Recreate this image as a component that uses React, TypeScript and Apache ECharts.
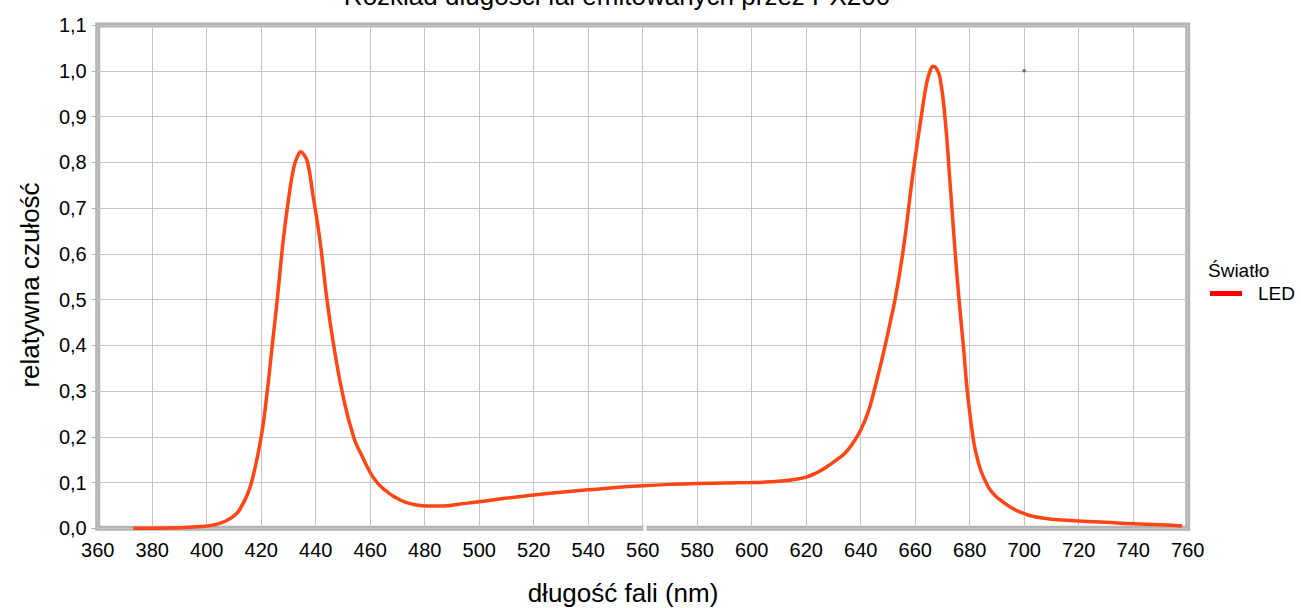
import React, { useEffect, useRef } from "react";
import * as echarts from "echarts";

const titleText = "Rozkład długości fal emitowanych przez PX200";
const xAxisTitle = "długość fali (nm)";
const yAxisTitle = "relatywna czułość";
const legendTitle = "Światło";
const seriesName = "LED";

const wavelengths = [
  373, 380, 390, 398, 403, 407, 410, 412, 415, 417, 420, 422, 424, 426, 428, 430, 432, 433.5, 434.5, 435.5,
  437, 439, 441.5, 444, 446.5, 450, 454, 457, 460, 462, 464, 466, 468, 470, 473, 477, 481, 487, 493, 500,
  510, 520, 530, 540, 550, 560, 570, 580, 590, 600, 605, 610, 615, 620, 624, 628, 631, 634, 637, 640, 642.5,
  644.6, 647, 649, 651, 652.6, 655.6, 658.7, 660, 662.4, 664.2, 665.5, 666.6, 667.8, 669.1, 670.9, 672.8,
  674.6, 676.1, 677.7, 679.2, 681.3, 682.5, 684, 686, 688, 691, 695, 698.4, 702, 706, 710, 720, 730, 740,
  750, 758,
];
const intensities = [
  0.0, 0.0, 0.001, 0.004, 0.008, 0.016, 0.027, 0.04, 0.075, 0.113, 0.2, 0.288, 0.397, 0.506, 0.625, 0.718,
  0.79, 0.815, 0.823, 0.818, 0.8, 0.728, 0.632, 0.506, 0.404, 0.29, 0.198, 0.158, 0.122, 0.104, 0.091, 0.081,
  0.072, 0.065, 0.057, 0.051, 0.049, 0.049, 0.053, 0.058, 0.066, 0.073, 0.079, 0.084, 0.089, 0.093, 0.096,
  0.098, 0.099, 0.1, 0.101, 0.103, 0.106, 0.112, 0.122, 0.136, 0.149, 0.163, 0.185, 0.215, 0.25, 0.293,
  0.35, 0.4, 0.455, 0.5, 0.608, 0.754, 0.81, 0.907, 0.973, 1.0, 1.01, 1.005, 0.985, 0.9, 0.754, 0.608, 0.499,
  0.397, 0.295, 0.195, 0.16, 0.128, 0.1, 0.08, 0.063, 0.046, 0.036, 0.028, 0.023, 0.02, 0.016, 0.013, 0.01,
  0.008, 0.005,
];
const markerPoint = [[700, 1.0]];

const FONT = "Liberation Sans, Arial, sans-serif";

export default function App() {
  const ref = useRef<HTMLDivElement>(null);
  useEffect(() => {
    if (!ref.current) return;
    const chart = echarts.init(ref.current, null, { renderer: "svg" });
    const lineData = wavelengths.map((w, i) => [w, intensities[i]]);
    chart.setOption({
      animation: false,
      backgroundColor: "#ffffff",
      textStyle: { fontFamily: FONT },
      grid: {
        left: 97.7,
        right: 113.3,
        top: 25,
        bottom: 79.7,
        show: true,
        borderColor: "#b3b3b3",
        borderWidth: 5,
        backgroundColor: "transparent",
      },
      xAxis: {
        type: "value",
        min: 360,
        max: 760,
        interval: 20,
        axisLine: { show: false },
        axisTick: { show: false },
        axisLabel: { color: "#000", fontSize: 20, margin: 12, fontFamily: FONT },
        splitLine: { show: true, lineStyle: { color: "#c4c4c4", width: 1 } },
      },
      yAxis: {
        type: "value",
        min: 0,
        max: 1.1,
        interval: 0.1,
        axisLine: { show: false },
        axisTick: { show: true, length: 6, lineStyle: { color: "#b3b3b3" } },
        axisLabel: {
          color: "#000",
          fontSize: 20,
          margin: 11,
          fontFamily: FONT,
          formatter: (v: number) => v.toFixed(1).replace(".", ","),
        },
        splitLine: { show: true, lineStyle: { color: "#c4c4c4", width: 1 } },
      },
      legend: {
        data: [{ name: seriesName, itemStyle: { color: "#ff0000" } }],
        left: 1205,
        top: 279,
        orient: "vertical",
        icon: "rect",
        itemWidth: 32,
        itemHeight: 5,
        textStyle: { color: "#000", fontSize: 19, fontFamily: FONT, padding: [0, 0, 0, 11] },
      },
      graphic: [
        {
          type: "text",
          x: 617,
          y: 9,
          z: 100,
          style: {
            text: titleText,
            font: `26px ${FONT}`,
            fill: "#000",
            textAlign: "center",
            textVerticalAlign: "bottom",
          },
        },
        {
          type: "text",
          x: 623,
          y: 593,
          z: 100,
          style: {
            text: xAxisTitle,
            font: `26px ${FONT}`,
            fill: "#000",
            textAlign: "center",
            textVerticalAlign: "middle",
          },
        },
        {
          type: "text",
          x: 30,
          y: 285,
          rotation: Math.PI / 2,
          z: 100,
          style: {
            text: yAxisTitle,
            font: `26px ${FONT}`,
            fill: "#000",
            textAlign: "center",
            textVerticalAlign: "middle",
          },
        },
        {
          type: "text",
          x: 1208,
          y: 270,
          z: 100,
          style: {
            text: legendTitle,
            font: `19px ${FONT}`,
            fill: "#000",
            textAlign: "left",
            textVerticalAlign: "middle",
          },
        },
        {
          type: "rect",
          z: 100,
          shape: { x: 643.5, y: 525, width: 3, height: 9 },
          style: { fill: "#ffffff" },
        },
      ],
      series: [
        {
          name: seriesName,
          type: "line",
          data: lineData,
          showSymbol: false,
          smooth: 0.5,
          lineStyle: { color: "#ff4513", width: 3.5 },
          itemStyle: { color: "#ff4513" },
          z: 5,
        },
        {
          name: "marker",
          type: "scatter",
          data: markerPoint,
          symbol: "rect",
          symbolSize: 3,
          itemStyle: { color: "#2050a0" },
          z: 6,
        },
      ],
    });
    return () => chart.dispose();
  }, []);
  return (
    <div
      ref={ref}
      style={{ position: "fixed", left: 0, top: 0, width: 1301, height: 608, background: "#fff" }}
    />
  );
}
